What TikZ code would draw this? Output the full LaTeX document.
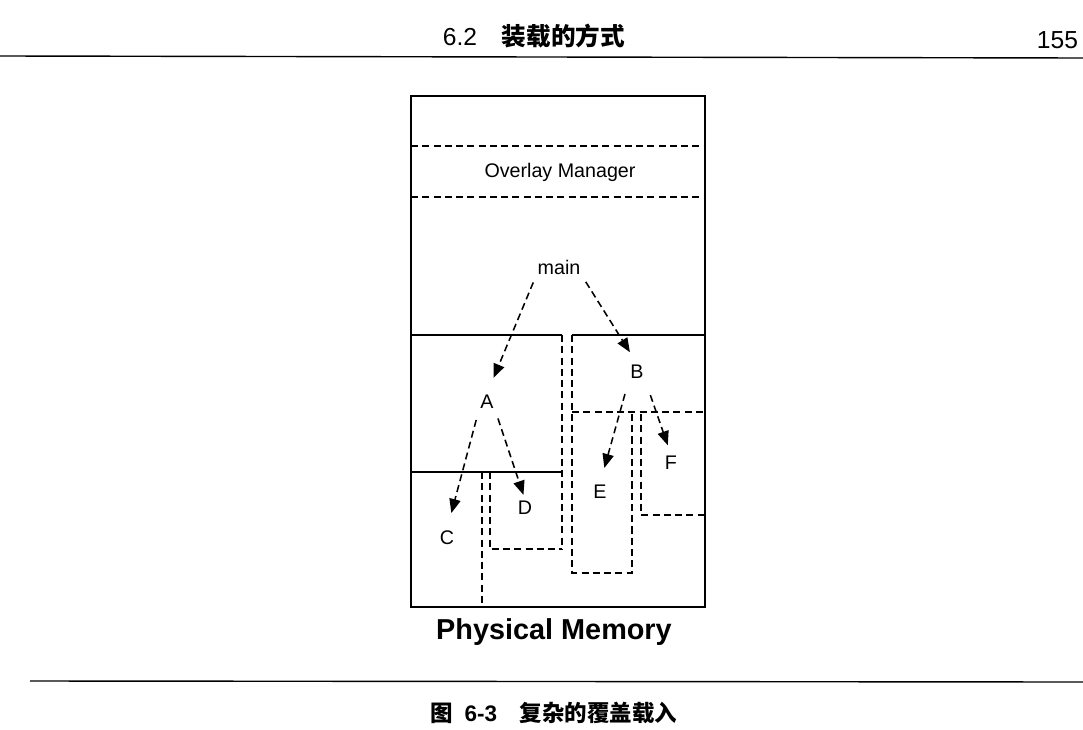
\documentclass[tikz,border=0pt]{standalone}
\usepackage{fontspec}
\setmainfont{Liberation Sans}
\newfontfamily\cjk{Noto Sans CJK SC}
\usetikzlibrary{arrows.meta}

\begin{document}
\begin{tikzpicture}[x=0.025cm,y=-0.025cm,
  seg/.style={line width=1.1pt,dash pattern=on 5pt off 3pt},
  call/.style={seg,-{Triangle[length=10pt,width=8pt]},shorten <=5pt},
  lbl/.style={font=\fontsize{14}{17}\selectfont,inner sep=1pt}]
\useasboundingbox (0,0) rectangle (1083,729);

% page header
\node[anchor=west,font=\fontsize{17.5}{20}\selectfont] (title) at (438,36) {6.2\quad{\cjk\bfseries 装载的方式}};
\node[anchor=east,font=\fontsize{17.5}{20}\selectfont] (page) at (1083,40) {155};
\draw[line width=1pt] (0,56) -- (1083,58);

% physical memory
\draw[line width=2pt] (411,96) rectangle (705,607);
\draw[seg] (411,146) -- (705,146);
\draw[seg] (411,197) -- (705,197);
\node[lbl] (mgr) at (560,172) {Overlay Manager};
\node[lbl] (main) at (559,267) {main};

% overlays A, C, D
\draw[line width=0.9pt] (411,335) -- (562,335);
\draw[seg] (562,335) -- (562,549);
\draw[line width=0.9pt] (411,472) -- (562,472);
\draw[seg] (482,472) -- (482,607);
\draw[seg] (490,472) -- (490,549) -- (562,549);

% overlays B, E, F
\draw[line width=0.9pt] (572,335) -- (705,335);
\draw[seg] (572,335) -- (572,573) -- (632,573) -- (632,412);
\draw[seg] (572,412) -- (705,412);
\draw[seg] (641,414) -- (641,515) -- (705,515);

\node[lbl] (A) at (487,402) {A};
\node[lbl] (B) at (637,372) {B};
\node[lbl] (C) at (447,538) {C};
\node[lbl] (D) at (525,508) {D};
\node[lbl] (E) at (600,492) {E};
\node[lbl] (F) at (671,463) {F};

\draw[call,shorten >=12pt] (main.south west) -- (A.north);
\draw[call,shorten >=9.5pt] (main.south east) -- (B.north);
\draw[call,shorten >=12pt,shorten <=7pt] (A.south west) -- (C.north);
\draw[call,shorten >=3.5pt,shorten <=6pt] (A.south east) -- (D.north);
\draw[call,shorten >=11.5pt,shorten <=10pt] (B.south west) -- (E.north);
\draw[call,shorten >=7pt,shorten <=11pt] (B.south east) -- (F.north);

\node[font=\bfseries\fontsize{20.5}{24}\selectfont] (phys) at (554,632) {Physical Memory};

% caption
\draw[line width=1pt] (30,681) -- (1083,682);
\node[anchor=west,font=\bfseries\fontsize{16}{19}\selectfont] (cap) at (426,713) {{\cjk 图}\hspace{0.5em}6-3\quad{\cjk 复杂的覆盖载入}};
\end{tikzpicture}
\end{document}
